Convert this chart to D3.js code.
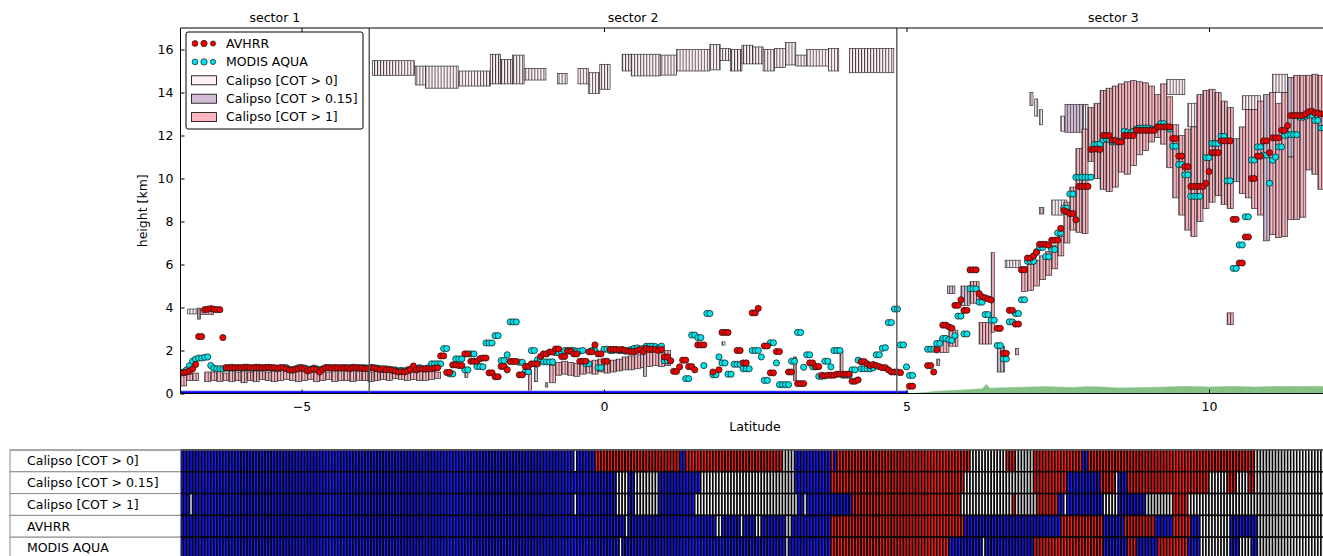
<!DOCTYPE html>
<html><head><meta charset="utf-8">
<script src="https://cdn.jsdelivr.net/npm/d3@7"></script>
<style>body{margin:0;background:#fff}svg{display:block}text{font-family:"DejaVu Sans",sans-serif}</style>
</head><body><svg id="c" width="1323" height="556"></svg>
<script>
// ---------- DATA ----------
const latStart = -7.0, latStep = 0.05;
const avhrr = [
0.95,0.97,1.0,1.05,1.15,1.35,2.65,2.65,3.9,3.92,3.95,3.92,3.9,3.9,2.6,1.2,1.2,1.22,1.2,1.2,
1.2,1.22,1.22,1.2,1.2,1.22,1.22,1.2,1.2,1.22,1.2,1.2,1.18,1.2,1.2,1.15,1.1,1.1,1.12,1.15,
1.2,1.15,1.05,1.1,1.15,1.1,1.0,1.12,1.2,1.2,1.18,1.2,1.2,1.18,1.2,1.2,1.15,1.2,1.2,1.18,
1.18,1.15,1.18,1.2,1.18,1.15,1.12,1.15,1.1,1.12,1.08,1.05,1.0,1.02,1.0,1.05,1.12,1.28,1.1,1.15,
1.15,1.15,1.15,1.15,1.18,1.2,1.75,1.75,0.98,0.98,1.33,1.33,1.3,1.3,1.84,1.84,1.5,1.5,1.5,1.62,
1.65,1.65,0.96,0.96,0.78,0.78,1.26,1.26,1.1,1.49,1.49,1.49,0.87,0.87,1.26,1.26,1.38,1.38,1.38,1.72,
1.84,1.84,1.93,1.93,2.07,2.07,1.72,1.72,1.97,1.97,1.84,1.84,1.5,1.5,1.5,1.94,1.94,2.26,1.84,1.84,
1.5,1.5,2.05,2.05,2.05,2.03,2.05,2.0,1.97,1.95,1.95,2.0,2.05,1.95,2.1,2.05,2.05,2.05,2.0,2.05,
1.7,1.7,1.52,1.03,1.03,1.24,1.55,1.55,1.25,1.25,1.1,2.26,2.26,2.26,null,null,1.0,null,1.1,2.84,
2.84,2.84,null,null,2.0,2.0,1.42,1.42,null,3.75,3.75,3.96,null,2.21,2.21,0.96,0.96,1.95,1.95,null,
null,1.0,1.0,null,0.46,0.46,0.46,null,1.42,1.42,1.25,1.25,0.85,0.82,0.85,0.85,0.85,0.9,0.9,0.9,
0.9,0.9,0.57,0.57,0.63,1.48,1.48,1.38,1.3,1.35,1.3,1.25,1.2,1.2,1.1,1.0,1.0,1.0,0.97,null,
null,0.34,0.34,null,null,null,null,1.3,1.3,1.0,2.03,null,3.18,3.18,3.1,3.04,4.1,4.1,4.36,3.87,
3.87,5.75,5.75,5.75,4.65,4.5,4.45,4.4,4.35,null,3.03,3.03,1.87,1.87,3.87,3.87,3.23,3.23,5.75,5.75,
6.3,6.3,6.4,6.56,6.94,6.94,6.94,6.9,7.13,7.13,7.13,7.68,8.51,8.45,8.37,8.37,8.08,9.63,9.63,9.63,
9.63,11.35,11.37,11.37,11.35,12.0,12.0,12.0,11.78,11.78,11.7,11.7,12.0,12.0,12.0,12.0,12.24,12.24,12.24,12.24,
12.24,12.24,12.24,12.4,12.4,12.4,12.4,12.4,11.86,11.86,11.04,11.04,10.55,10.55,9.63,9.63,9.63,9.63,9.63,9.78,
10.32,11.2,11.2,11.2,11.75,11.75,11.75,11.75,8.1,8.1,6.07,6.07,7.28,7.28,10.0,10.0,11.04,11.04,11.75,11.75,
11.2,11.89,11.89,11.89,12.24,12.24,12.46,12.93,12.93,12.93,12.93,12.93,13.0,13.1,13.13,13.05,13.05,13.0,13.0,13.0
];
const modis = [
0.95,1.0,1.1,1.3,1.5,1.6,1.65,1.65,1.68,1.7,1.3,1.18,1.15,1.15,1.15,1.18,1.18,1.2,1.18,1.2,
1.18,1.2,1.2,1.18,1.18,1.2,1.2,1.18,1.2,1.2,1.18,1.18,1.15,1.18,1.2,1.2,1.12,1.08,1.15,1.2,
1.2,1.18,1.15,1.12,1.18,1.15,1.1,1.15,1.2,1.2,1.2,1.2,1.18,1.2,1.2,1.18,1.2,1.22,1.2,1.2,
1.2,1.2,1.18,1.2,1.2,1.18,1.15,1.12,1.15,1.12,1.1,1.1,1.05,1.08,1.05,1.1,1.12,1.15,1.1,1.2,
1.15,1.15,1.2,1.38,1.38,1.38,1.38,2.09,2.09,0.91,0.91,1.61,1.61,1.61,1.1,1.1,1.84,1.84,1.26,1.26,
1.24,2.35,2.35,2.35,2.69,2.69,1.53,1.53,1.8,3.33,3.33,3.33,1.45,1.45,1.01,1.01,2.0,2.0,1.57,1.57,
1.47,1.47,1.47,1.47,1.9,1.9,1.9,2.0,2.0,2.0,2.0,1.97,1.97,2.0,1.38,1.38,2.0,2.0,1.2,1.2,
2.06,2.06,2.0,2.0,2.03,2.0,2.0,1.97,2.0,2.05,2.1,2.12,2.05,2.1,2.2,2.2,2.2,2.18,2.1,2.2,
1.52,1.52,1.52,null,null,null,null,0.69,0.69,2.72,2.72,2.6,2.6,1.3,3.72,3.72,0.87,0.87,1.7,1.42,
1.42,0.9,0.9,1.36,1.36,1.36,1.15,1.15,1.15,2.0,2.0,2.0,1.7,0.61,0.61,2.36,2.36,1.42,0.41,0.41,
0.41,0.41,1.5,1.5,2.84,2.84,1.22,1.8,1.8,1.24,1.24,0.8,0.8,1.5,1.5,1.24,2.0,2.0,2.0,0.85,
0.85,0.85,1.1,1.1,1.55,1.15,1.15,1.15,1.15,1.2,1.8,1.8,2.1,2.13,3.3,3.3,3.93,3.93,2.26,2.26,
1.24,0.84,0.84,null,null,null,null,2.06,2.06,2.06,2.33,2.33,2.56,2.56,2.5,2.47,2.69,3.6,3.6,2.77,
2.77,4.87,4.87,4.87,4.25,4.25,3.67,3.67,3.41,3.41,2.23,2.23,1.61,1.61,3.33,3.33,3.72,3.72,4.36,4.36,
6.15,6.15,6.15,6.6,6.79,6.79,6.36,6.36,6.7,6.7,7.47,7.47,8.63,8.63,9.28,9.28,10.06,10.06,10.06,10.06,
10.06,10.06,11.58,11.58,11.6,11.8,11.85,11.8,11.7,11.7,11.7,11.75,12.2,12.15,12.1,12.2,12.3,12.35,12.35,12.35,
12.35,12.3,12.3,12.4,12.55,12.55,12.4,12.3,11.5,11.5,10.65,10.65,10.17,10.17,9.17,9.17,9.17,9.17,null,10.97,
10.97,11.63,11.63,11.63,11.96,11.96,9.89,9.89,5.82,5.82,6.91,6.91,8.22,8.22,10.86,10.86,11.47,11.47,11.09,11.09,
9.78,10.85,11.0,11.47,11.47,12.0,12.04,12.04,12.04,12.04,12.85,12.85,12.9,12.95,12.95,12.7,12.7,12.35,12.35,12.3
];
// Calipso layers: [lat0, lat1, base km, top km]
const cot0Layers = [
[-6.88,-6.72,3.7,3.93],
[-3.83,-3.13,14.8,15.48],[-3.12,-2.95,14.35,15.23],[-2.95,-2.41,14.2,15.23],[-2.40,-1.88,14.3,15.0],
[-1.88,-1.71,14.4,15.78],[-1.71,-1.51,14.4,15.54],[-1.51,-1.32,14.4,15.74],[-1.32,-0.96,14.58,15.12],
[-0.77,-0.61,14.4,14.89],[-0.43,-0.26,14.4,15.12],[-0.26,-0.07,13.96,14.92],[-0.07,0.10,14.15,15.31],
[0.30,0.45,15.0,15.78],[0.45,0.93,14.77,15.78],[0.93,1.20,14.81,15.74],[1.20,1.75,15.0,16.0],
[1.75,1.92,15.05,16.24],[1.92,2.09,15.48,16.05],[2.09,2.28,15.0,16.0],[2.28,2.46,15.33,16.2],
[2.46,2.63,15.33,16.12],[2.63,2.82,15.0,16.0],[2.82,3.0,15.16,16.05],[3.0,3.17,15.28,16.32],
[3.17,3.35,15.23,15.74],[3.35,3.71,15.23,16.0],[3.71,3.88,15.0,16.05],[4.06,4.79,14.92,16.05],
[-0.97,-0.93,0.3,0.5],[1.95,2.0,2.25,2.4],
[6.63,6.88,5.85,6.2],[7.04,7.09,13.4,14.0],[7.12,7.17,12.9,13.7],[7.2,7.25,12.5,13.2],
[7.4,7.65,8.3,9.0],[7.55,7.62,12.2,12.9],[7.92,8.0,12.15,13.45],[9.3,9.6,13.9,14.6],
[9.65,9.8,12.4,13.5],[10.55,10.85,13.2,13.85],[11.05,11.3,14.0,14.85]
];
const cot015Layers = [
[-6.72,-6.67,3.46,3.97],[-1.15,-1.1,0.55,1.2],[0.65,0.7,0.8,1.9],[5.5,5.55,1.3,1.6],
[5.68,5.8,4.65,5.0],[5.9,6.05,4.1,5.0],[6.5,6.62,1.0,2.2],[7.2,7.27,8.35,8.65],
[7.62,7.92,12.15,13.45],[10.4,10.5,9.85,11.85],[10.9,11.0,7.1,13.9],[11.3,11.4,11.0,14.7]
];
const cot1Layers = [
[-7.0,-6.9,0.35,0.85],[-6.9,-6.8,0.6,0.9],[-6.8,-6.7,0.6,0.95],
[-6.6,-6.5,0.55,1.0],[-6.5,-6.4,0.6,1.0],[-6.4,-6.3,0.55,1.05],[-6.3,-6.2,0.6,0.95],[-6.2,-6.1,0.55,1.05],
[-6.1,-6.0,0.6,1.0],[-6.0,-5.9,0.5,1.05],[-5.9,-5.8,0.6,1.0],[-5.8,-5.7,0.55,1.05],[-5.7,-5.6,0.65,1.05],
[-5.6,-5.5,0.6,1.0],[-5.5,-5.4,0.55,1.05],[-5.4,-5.3,0.6,1.1],[-5.3,-5.2,0.65,1.05],[-5.2,-5.1,0.6,1.0],
[-5.1,-5.0,0.55,1.05],[-5.0,-4.9,0.6,1.0],[-4.9,-4.8,0.65,1.05],[-4.8,-4.7,0.55,1.0],[-4.7,-4.6,0.6,1.05],
[-4.6,-4.5,0.65,1.0],[-4.5,-4.4,0.55,1.05],[-4.4,-4.3,0.6,1.1],[-4.3,-4.2,0.6,1.05],[-4.2,-4.1,0.55,1.05],
[-4.1,-4.0,0.6,1.05],[-4.0,-3.9,0.6,1.3],[-3.9,-3.8,0.55,1.0],[-3.8,-3.7,0.6,1.05],[-3.7,-3.6,0.65,1.0],
[-3.6,-3.5,0.6,1.05],[-3.5,-3.4,0.7,1.0],[-3.4,-3.3,0.65,1.05],[-3.3,-3.2,0.6,1.0],[-3.2,-3.1,0.65,1.0],
[-3.1,-3.0,0.6,1.05],[-3.0,-2.9,0.6,1.0],[-2.9,-2.8,0.65,1.05],[-2.8,-2.7,0.7,1.0],
[-6.67,-6.45,3.68,3.93],
[-2.3,-2.25,0.75,1.0],[-1.25,-1.2,0.02,1.1],[-0.9,-0.8,0.5,1.3],
[-0.8,-0.7,0.85,1.45],[-0.7,-0.6,0.9,1.5],[-0.6,-0.5,0.85,1.45],[-0.5,-0.4,0.8,1.4],[-0.4,-0.3,0.9,1.5],
[-0.3,-0.2,0.95,1.45],[-0.2,-0.1,0.9,1.55],[-0.1,0.0,1.0,1.6],[0.0,0.1,0.95,1.5],[0.1,0.2,1.0,1.55],
[0.2,0.3,1.05,1.6],[0.3,0.4,1.1,1.7],[0.4,0.5,1.1,1.75],[0.5,0.6,1.15,1.8],[0.6,0.65,1.2,1.85],
[0.7,0.8,1.25,1.9],[0.8,0.9,1.3,1.95],[0.9,1.0,1.25,1.9],[1.0,1.1,1.3,2.0],
[3.13,3.18,0.6,1.7],[3.9,3.95,0.9,1.95],
[5.55,5.7,1.9,2.6],[5.7,5.85,2.2,2.95],[6.05,6.2,4.2,5.2],[6.2,6.4,2.3,3.3],[6.4,6.45,2.85,6.55],[6.8,6.85,1.8,2.1],
[6.9,7.0,4.75,5.9],[7.0,7.1,4.8,6.0],[7.1,7.2,5.0,6.2],[7.2,7.3,5.3,6.4],[7.3,7.4,5.5,6.6],[7.4,7.5,5.8,6.9],[7.5,7.6,6.4,7.3],
[7.6,7.7,7.0,8.9],[7.7,7.8,7.6,9.6],[7.8,7.9,7.5,11.4],[7.9,8.0,7.45,12.3],[8.0,8.1,10.8,13.3],[8.1,8.2,10.0,13.5],
[8.2,8.3,9.5,14.1],[8.3,8.4,9.4,14.2],[8.4,8.5,9.6,14.3],[8.5,8.6,10.3,14.4],[8.6,8.7,10.2,14.5],[8.7,8.8,10.6,14.55],
[8.8,8.9,11.1,14.5],[8.9,9.0,11.3,14.45],[9.0,9.1,11.7,14.3],[9.1,9.2,11.9,13.9],[9.2,9.3,11.6,14.4],[9.3,9.4,10.5,13.8],
[9.4,9.5,9.1,12.5],[9.5,9.6,8.3,12.0],[9.6,9.7,7.6,12.3],[9.7,9.8,7.3,12.4],[9.8,9.9,8.0,13.9],[9.9,10.0,8.6,14.1],
[10.0,10.1,8.9,14.15],[10.1,10.2,9.2,14.0],[10.2,10.3,8.8,13.6],[10.3,10.4,8.6,13.3],[10.3,10.4,3.2,3.75],
[10.5,10.6,9.3,12.4],[10.6,10.7,9.1,13.2],[10.7,10.8,8.6,13.2],[10.8,10.9,8.3,13.6],[11.0,11.1,7.4,14.0],
[11.1,11.2,7.25,13.5],[11.2,11.3,7.3,14.0],[11.3,11.4,8.1,11.0],[11.4,11.5,8.1,14.8],[11.5,11.6,8.2,14.8],
[11.6,11.7,10.4,14.8],[11.7,11.8,10.2,14.85],[11.8,11.9,9.5,14.8],[11.9,12.0,9.5,14.8]
];
const groundLat = [5.1,5.25,5.5,5.75,6.0,6.25,6.32,6.38,6.45,6.75,7.0,7.25,7.5,7.75,8.0,8.25,8.5,8.75,9.0,9.25,9.5,9.75,10.0,10.25,10.5,10.75,11.0,11.25,11.5,11.75,12.0];
const groundH = [0.0,0.04,0.1,0.14,0.18,0.22,0.42,0.24,0.26,0.28,0.3,0.32,0.3,0.28,0.32,0.3,0.26,0.27,0.28,0.3,0.32,0.33,0.3,0.32,0.33,0.3,0.32,0.33,0.32,0.34,0.32];
const seaLat = [-7.0, 5.02];
const sectorBounds = [-3.88, 4.84];
const sectorNames = ['sector 1','sector 2','sector 3'];
const xTicks = [-5, 0, 5, 10];
const yTicks = [0, 2, 4, 6, 8, 10, 12, 14, 16];
const legendLabels = ['AVHRR','MODIS AQUA','Calipso [COT > 0]','Calipso [COT > 0.15]','Calipso [COT > 1]'];
const tableLabels = ['Calipso [COT > 0]','Calipso [COT > 0.15]','Calipso [COT > 1]','AVHRR','MODIS AQUA'];
const tableRuns = [
"b130 w1 b6 r28 b2 r32 w4 b12 r1 b1 r44 w12 r3 w6 r16 b2 r55 w25",
"b144 w4 b2 w8 b14 w31 b12 r44 w23 r11 b11 r5 w1 b3 r27 w6 r3 w4 r2 w25",
"b3 w1 b126 w1 b13 w4 b2 w8 b12 w34 b2 w1 b15 r36 w17 r1 w7 r7 b2 w1 b12 w5 b9 w9 r5 w47",
"b147 w1 b29 w2 b6 w1 b4 w2 b8 w2 b13 r44 b32 r14 b7 r10 b6 r6 b3 w10 b9 w24",
"b145 w1 b54 w1 b14 r39 b11 w1 b16 r23 b8 r3 b7 r10 b4 w10 b3 w4 b2 w24"
];

// ---------- DRAW ----------
const svg = d3.select('#c');
const x = d3.scaleLinear().domain([-7, 12]).range([180.5, 1330]);
const y = d3.scaleLinear().domain([0, 17]).range([393.5, 28]);
const binW = x(latStep) - x(0);
const defs = svg.append('defs');
defs.append('clipPath').attr('id','clip').append('rect')
  .attr('x', x(-7)).attr('y', y(17)).attr('width', x(12)-x(-7)).attr('height', y(0)-y(17));

const layerTypes = [
  {key:'c0', data: cot0Layers, fill:'#fff0f5'},
  {key:'c15', data: cot015Layers, fill:'#d4bcd6'},
  {key:'c1', data: cot1Layers, fill:'#ffb6c1'}
];
layerTypes.forEach(t => {
  const p = defs.append('pattern').attr('id','pat-'+t.key).attr('patternUnits','userSpaceOnUse')
    .attr('x', x(-7)).attr('y', 0).attr('width', binW).attr('height', 20);
  p.append('rect').attr('width', binW).attr('height', 20).attr('fill', t.fill);
  p.append('rect').attr('width', 0.9).attr('height', 20).attr('fill', '#3e3e3e');
});

const plot = svg.append('g').attr('clip-path','url(#clip)');
layerTypes.forEach(t => {
  plot.append('g').selectAll('rect').data(t.data).join('rect')
    .attr('x', d => x(d[0])).attr('width', d => x(d[1]) - x(d[0]))
    .attr('y', d => y(d[3])).attr('height', d => y(d[2]) - y(d[3]))
    .attr('fill', 'url(#pat-'+t.key+')').attr('stroke', '#2e2e2e').attr('stroke-width', 0.7);
});

// ground
const gArea = d3.area().x((d,i) => x(groundLat[i])).y0(y(0)).y1((d) => y(d));
plot.append('path').attr('d', gArea(groundH)).attr('fill', '#86c286').attr('stroke', '#86c286').attr('stroke-width', 0.5);
// sea
plot.append('line').attr('x1', x(seaLat[0])).attr('x2', x(seaLat[1])).attr('y1', y(0)-2.4).attr('y2', y(0)-2.4)
  .attr('stroke', '#9ea0ff').attr('stroke-width', 1.2);
plot.append('line').attr('x1', x(seaLat[0])).attr('x2', x(seaLat[1])).attr('y1', y(0)-0.9).attr('y2', y(0)-0.9)
  .attr('stroke', '#0000ff').attr('stroke-width', 2.8);

// points
function pts(arr){ return arr.map((h,i) => ({lat: latStart + latStep*i, h})).filter(d => d.h != null); }
plot.append('g').selectAll('circle').data(pts(modis)).join('circle')
  .attr('cx', d => x(d.lat)).attr('cy', d => y(d.h)).attr('r', 3.1)
  .attr('fill', '#00e3ea').attr('stroke', '#1a1a1a').attr('stroke-width', 0.75);
plot.append('g').selectAll('circle').data(pts(avhrr)).join('circle')
  .attr('cx', d => x(d.lat)).attr('cy', d => y(d.h)).attr('r', 3.1)
  .attr('fill', '#f00000').attr('stroke', '#1a1a1a').attr('stroke-width', 0.75);

// sector lines
svg.append('g').selectAll('line').data(sectorBounds).join('line')
  .attr('x1', d => x(d)).attr('x2', d => x(d)).attr('y1', y(17)).attr('y2', y(0))
  .attr('stroke', '#555').attr('stroke-width', 1.4);

// axes
const ax = svg.append('g').attr('font-family','DejaVu Sans').attr('font-size', 12.5);
const bottomAxis = d3.axisBottom(x).tickValues(xTicks).tickSize(-4).tickPadding(9);
ax.append('g').attr('transform', `translate(0,${y(0)})`).call(bottomAxis)
  .call(g => g.select('.domain').remove())
  .call(g => g.selectAll('text').attr('font-size', 12.5).attr('font-family','DejaVu Sans').attr('fill','#000'));
const topAxis = d3.axisTop(x).tickValues(xTicks).tickSize(-4).tickFormat('');
ax.append('g').attr('transform', `translate(0,${y(17)})`).call(topAxis).call(g => g.select('.domain').remove());
const leftAxis = d3.axisLeft(y).tickValues(yTicks).tickSize(-4).tickPadding(7).tickFormat(d3.format('d'));
ax.append('g').attr('transform', `translate(${x(-7)},0)`).call(leftAxis)
  .call(g => g.select('.domain').remove())
  .call(g => g.selectAll('text').attr('font-size', 12.5).attr('font-family','DejaVu Sans').attr('fill','#000'));
// sector titles
const sEdges = [-7].concat(sectorBounds).concat([12]);
svg.append('g').selectAll('text').data(sectorNames).join('text')
  .attr('x', (d,i) => x((sEdges[i] + sEdges[i+1]) / 2)).attr('y', 22)
  .attr('text-anchor','middle').attr('font-size', 12.5).text(d => d);
// spines
svg.append('line').attr('x1', x(-7)).attr('x2', x(12)).attr('y1', y(17)).attr('y2', y(17)).attr('stroke','#000').attr('stroke-width',1);
svg.append('line').attr('x1', x(-7)).attr('x2', x(12)).attr('y1', y(0)).attr('y2', y(0)).attr('stroke','#000').attr('stroke-width',1);
svg.append('line').attr('x1', x(-7)).attr('x2', x(-7)).attr('y1', y(17)).attr('y2', y(0)).attr('stroke','#000').attr('stroke-width',1);
// axis labels
svg.append('text').attr('x', 755).attr('y', 431).attr('text-anchor','middle').attr('font-size', 12.5).text('Latitude');
svg.append('text').attr('transform', `translate(147,${(y(0)+y(17))/2}) rotate(-90)`).attr('text-anchor','middle').attr('font-size', 12.5).text('height [km]');

// legend
const lg = svg.append('g').attr('transform', 'translate(186,32)');
lg.append('rect').attr('width', 177).attr('height', 97).attr('rx', 2).attr('fill','#fff').attr('stroke','#000').attr('stroke-width',1);
const legendColors = ['#f00000','#00e3ea','#fff0f5','#d4bcd6','#ffb6c1'];
legendLabels.forEach((lab, i) => {
  const cy = 11.5 + i * 18.4;
  if (i < 2) {
    [9, 18, 27].forEach((cx, k) => lg.append('circle').attr('cx', cx).attr('cy', cy).attr('r', [2.9, 3.2, 2.6][k])
      .attr('fill', legendColors[i]).attr('stroke','#1a1a1a').attr('stroke-width',0.7));
  } else {
    lg.append('rect').attr('x', 5.5).attr('y', cy - 4.5).attr('width', 25).attr('height', 9)
      .attr('fill', legendColors[i]).attr('stroke','#000').attr('stroke-width',0.8);
  }
  lg.append('text').attr('x', 40).attr('y', cy).attr('dy','0.35em').attr('font-size', 12.5).text(lab);
});

// table
const tTop = 450, rowH = 21.8;
const catColor = {b:'#1a1aff', r:'#ff1a1a', w:'#f2f2f2'};
const tbl = svg.append('g');
tableRuns.forEach((runStr, r) => {
  const cells = [];
  runStr.split(' ').forEach(tok => { const c = tok[0], n = +tok.slice(1); for (let k = 0; k < n; k++) cells.push(c); });
  tbl.append('g').selectAll('rect').data(cells).join('rect')
    .attr('x', (d,i) => x(latStart + latStep*i)).attr('width', binW)
    .attr('y', tTop + r*rowH).attr('height', rowH)
    .attr('fill', d => catColor[d]).attr('stroke', '#050505').attr('stroke-width', 1.5);
  tbl.append('rect').attr('x', 10).attr('y', tTop + r*rowH).attr('width', x(-7) - 10).attr('height', rowH)
    .attr('fill','#fff').attr('stroke','#8a8a8a').attr('stroke-width',1);
  tbl.append('text').attr('x', 27).attr('y', tTop + r*rowH + rowH/2).attr('dy','0.35em').attr('font-size', 12.5).text(tableLabels[r]);
});
tbl.append('line').attr('x1', 10).attr('x2', 1323).attr('y1', tTop).attr('y2', tTop).attr('stroke','#8a8a8a').attr('stroke-width',1);
</script></body></html>
